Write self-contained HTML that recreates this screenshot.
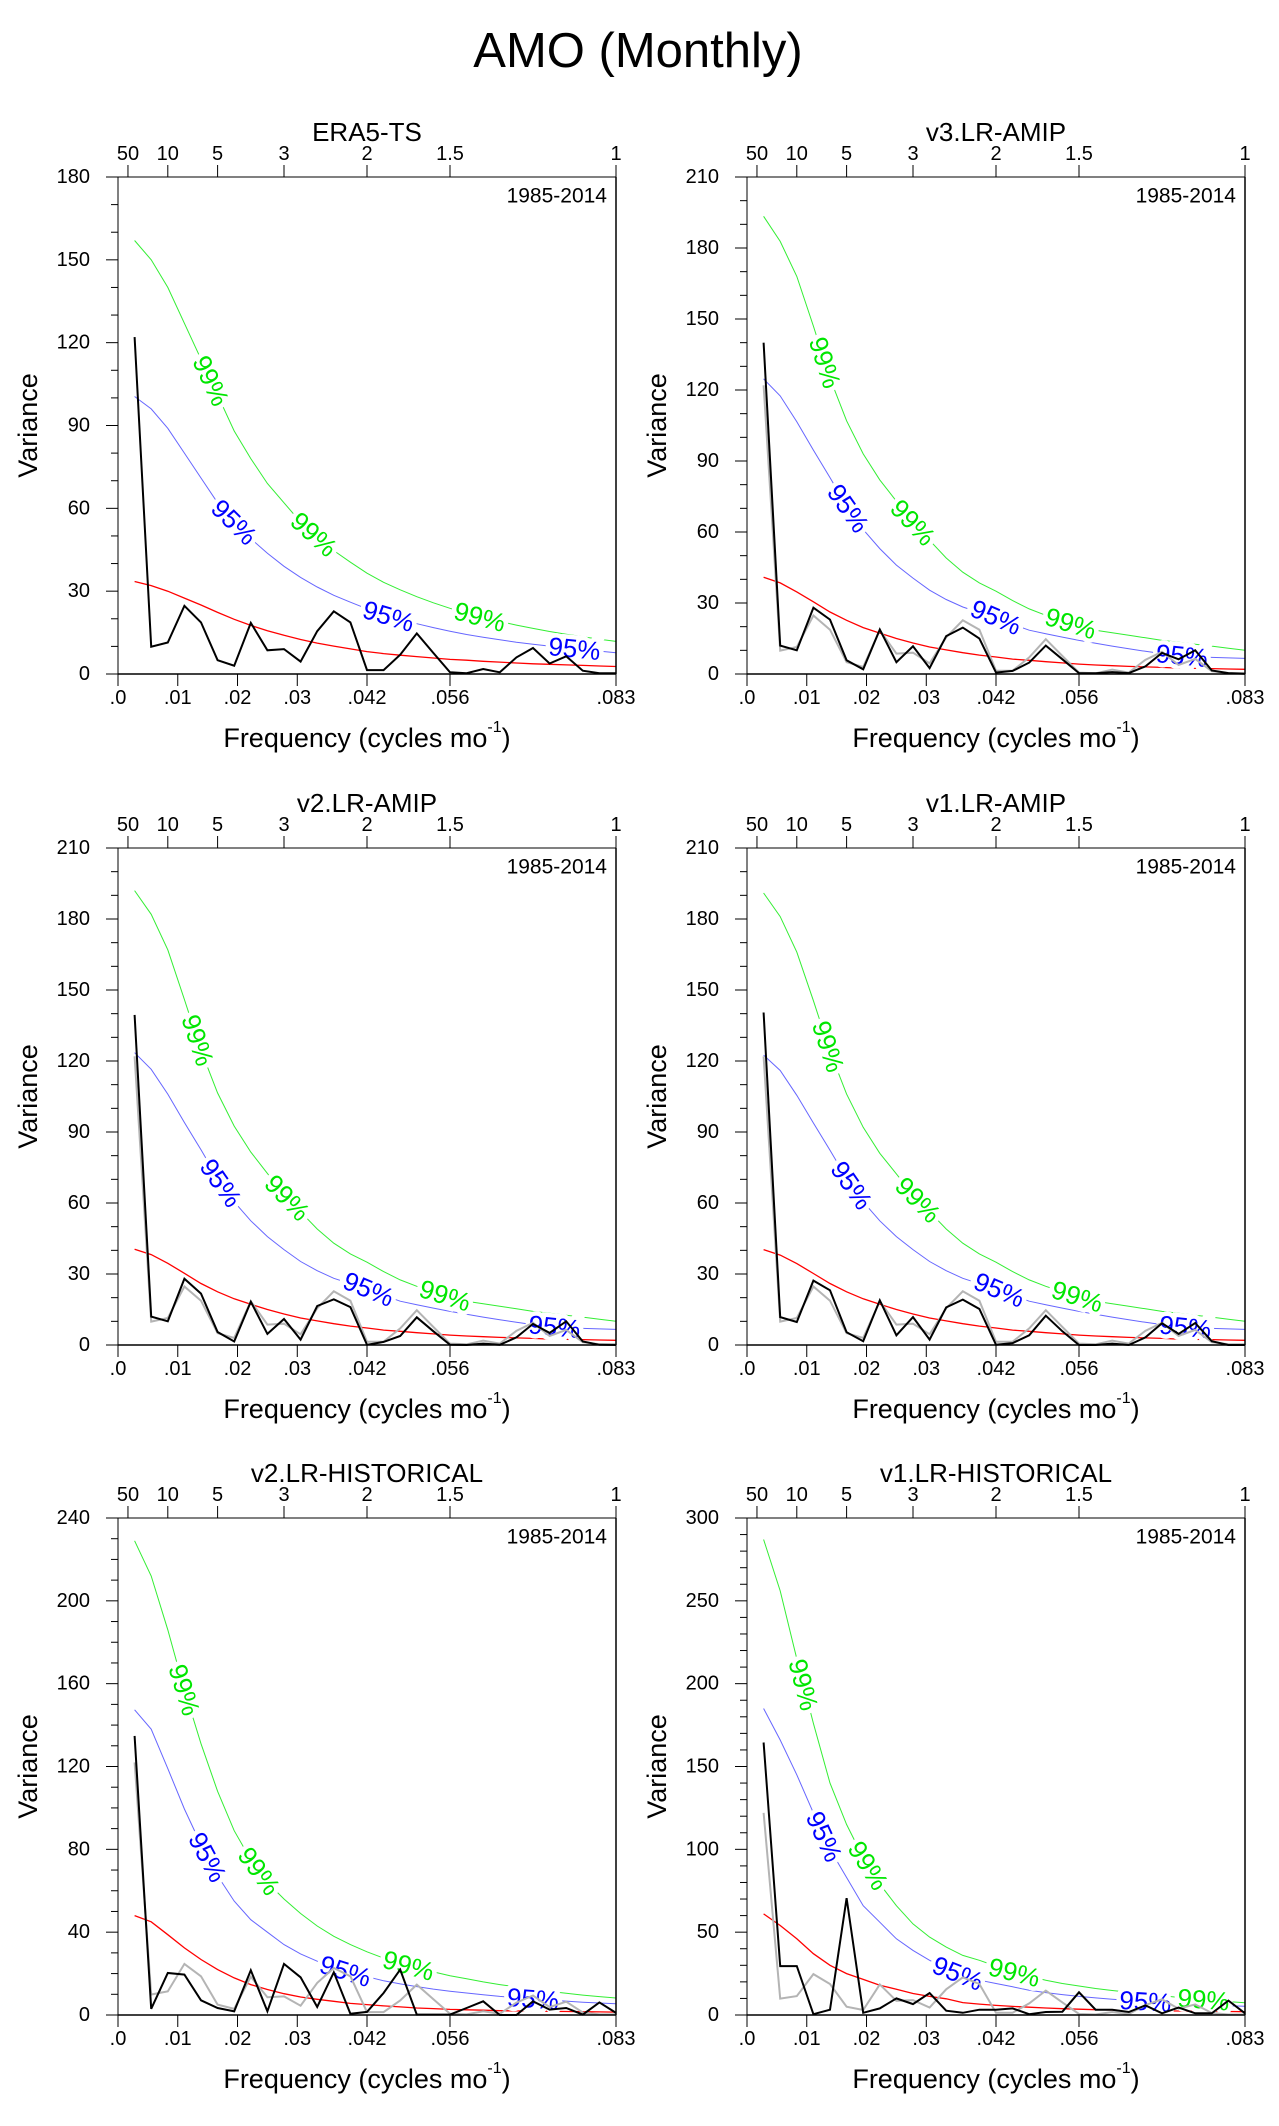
<!DOCTYPE html>
<html><head><meta charset="utf-8"><style>
html,body{margin:0;padding:0;background:#fff;}
svg{display:block;font-family:"Liberation Sans",Arial,sans-serif;}
</style></head><body>
<svg id="fig" width="1279" height="2126" viewBox="0 0 1279 2126" xmlns="http://www.w3.org/2000/svg">
<rect width="1279" height="2126" fill="#fff"/>
<text x="638" y="51" font-size="49" text-anchor="middle" dominant-baseline="central">AMO (Monthly)</text>
</svg>
<script>
// ---- data (values per harmonic k=1..30, frequency k/360 cycles per month) ----
const era5Black = [122,9.9,11.4,24.7,18.7,5,3,18.5,8.6,9,4.5,15.5,22.7,18.7,1.4,1.4,7,14.7,7.6,0.6,0.3,1.8,0.6,6,9.4,3.8,6.4,1.2,0.3,0.3];
const era5Red = [33.5,32,30,27.5,25,22.3,19.8,17.6,15.7,14,12.5,11.2,10.1,9.1,8.1,7.4,6.8,6.3,5.8,5.3,5,4.6,4.3,4,3.7,3.5,3.3,3.1,2.9,2.7];
const era5Blue = [100.5,96,89,80,71,62,55,49,43.7,39,35,31.5,28.5,26,23.6,21.5,19.7,18.2,16.8,15.5,14.3,13.3,12.4,11.5,10.8,10.1,9.5,8.9,8.3,7.7];
const era5Green = [157,150,140,127,114,101,88,78,69,62,55,49.5,44.7,40.5,36.5,33.2,30.5,28,25.8,23.8,22,20.4,19,17.7,16.5,15.4,14.4,13.5,12.6,11.8];

const v3Black = [140,12,10,28,23,5.8,2,18.8,5,11.7,2.5,16,19.6,15,0.6,1.3,4.8,12,6.2,0.4,0.3,0.8,0.4,3.2,8.9,6.2,10,1.5,0.4,0.1];
const v3Red = [40.9,38.5,34.7,30.5,26.2,22.7,19.6,17.3,15,13.1,11.4,10.2,9,8,7.2,6.3,5.8,5.2,4.7,4.2,3.8,3.5,3.2,3,2.8,2.5,2.4,2.3,2.1,2];
const v3Blue = [124.7,117.5,106.6,94.6,83,71,61,53,46,40.5,35.4,31.5,28.3,26,24,21,18.5,17,15.6,14.2,13,11.8,10.7,9.6,8.6,7.9,7.2,7,6.8,6.6];
const v3Green = [193.4,182.8,168,147,125,107,93,82,73,64,56.5,49,43,38.5,35,31,27.5,24.8,22.5,20.3,18.5,17.4,16.4,15.3,14.2,13.4,12.6,11.8,10.9,10];

const v2aBlack = [139.5,12,10,28,21.7,5.5,1.5,18.3,4.7,11,2.3,16.5,19.3,16,0.1,1.3,3.8,11.7,5.8,0.1,0,0.6,0.1,3.2,8.9,5.1,10,1.5,0.1,0];
const v2aRed = [40.5,38.2,34.5,30.3,26,22.5,19.5,17.2,15,13.1,11.4,10.2,9,8,7.2,6.3,5.8,5.2,4.7,4.2,3.8,3.5,3.2,3,2.8,2.5,2.4,2.3,2.1,2];
const v2aBlue = [123.5,116.5,106,94,82.5,70.5,60.5,52.5,45.8,40.3,35.3,31.4,28.2,25.9,23.9,21,18.5,17,15.6,14.2,13,11.8,10.7,9.6,8.6,7.9,7.2,7,6.8,6.6];
const v2aGreen = [192,182,167,146,124.5,106.5,92.5,81.5,72.5,63.7,56.3,49,43,38.5,35,31,27.5,24.8,22.5,20.3,18.5,17.4,16.4,15.3,14.2,13.4,12.6,11.8,10.9,10];

const v1aBlack = [140.5,11.8,9.7,27.2,23.1,5.4,1.6,18.9,4.1,11.8,2.3,15.9,19.2,15.2,0.1,0.8,4.1,12.4,5.8,0,0,0.6,0,3.2,9.2,4.7,9.3,1.6,0,0];
const v1aRed = [40.3,38,34.4,30.2,26,22.5,19.5,17.2,15,13.1,11.4,10.2,9,8,7.2,6.3,5.8,5.2,4.7,4.2,3.8,3.5,3.2,3,2.8,2.5,2.4,2.3,2.1,2];
const v1aBlue = [122.5,116,105.5,93.8,82.3,70.5,60.5,52.5,45.8,40.3,35.3,31.4,28.2,25.9,23.9,21,18.5,17,15.6,14.2,13,11.8,10.7,9.6,8.6,7.9,7.2,7,6.8,6.6];
const v1aGreen = [191,181,166,145.5,124,106,92,81,72.3,63.5,56.3,49,43,38.5,35,31,27.5,24.8,22.5,20.3,18.5,17.4,16.4,15.3,14.2,13.4,12.6,11.8,10.9,10];

const v2hBlack = [134.8,3,20.3,19.5,7.1,3.4,1.8,21.6,1.8,24.7,18.2,3.9,20.6,0.6,1.5,10.6,21.9,0.2,0.2,0.2,3.4,6.6,0,0,6.6,2.6,3.4,0.2,6.1,1];
const v2hRed = [48,45,38.8,32.4,26.8,21.9,17.9,14.7,12.3,10.3,8.7,7.6,6.6,5.6,5,4.4,3.9,3.4,3.1,2.7,2.5,2.3,2.1,2,1.9,1.8,1.7,1.6,1.5,1.4];
const v2hBlue = [147.4,138,119,99.5,82.3,67.2,55,46,40,34,29.5,26,23,20.5,18.5,16.5,15,13.7,12.5,11.5,10.6,9.8,9,8.4,7.8,7.2,6.7,6.2,5.8,5.4];
const v2hGreen = [229,212,186,157,131,108,89,75,64,56,49,43,38,34,30.5,27.5,25,22.8,20.8,19,17.5,16,14.7,13.5,12.4,11.4,10.5,9.6,8.9,8.2];

const v1hBlack = [164.5,29.5,29.5,0.5,3.2,70.5,1.3,4,10,6.6,13.2,2.6,1.3,3.2,3.2,4,0.5,1.8,2,13.7,3.2,3.2,1.8,5.8,1,4.5,1,1,8.7,1];
const v1hRed = [61,54,46,37,30,25,21.5,18,15.5,13,11.2,9.8,7.5,6.6,5.8,5.2,4.7,4.2,3.8,3.5,3.2,3,2.8,2.6,2.5,2.4,2.3,2.2,2.1,2.0];
const v1hBlue = [185,166,145,122,100,83,66,56,46,39,33,28,24,21,19,17,15,13.5,12.3,11.2,10.3,9.5,8.8,8.2,7.6,7,6.5,6,5.6,5.3];
const v1hGreen = [287,256,215,176,140,115,95,79,66,55,47,41,36,33,29.5,26,23.5,21,19,17.5,16,14.8,13.7,12.6,11.6,10.6,9.7,8.9,8.1,7.4];

const panelTitles = ["ERA5-TS","v3.LR-AMIP","v2.LR-AMIP","v1.LR-AMIP","v2.LR-HISTORICAL","v1.LR-HISTORICAL"];
const yMaxes = [180,210,210,210,240,300];
const yMajors = [30,30,30,30,40,50];
const bottomTickValues = [0,0.01,0.02,0.03,1/24,1/18,1/12];
const bottomTickLabels = [".0",".01",".02",".03",".042",".056",".083"];
const topPeriods = [50,10,5,3,2,1.5,1];
const topLabels = ["50","10","5","3","2","1.5","1"];
const blackSeries = [era5Black,v3Black,v2aBlack,v1aBlack,v2hBlack,v1hBlack];
const redSeries = [era5Red,v3Red,v2aRed,v1aRed,v2hRed,v1hRed];
const blueSeries = [era5Blue,v3Blue,v2aBlue,v1aBlue,v2hBlue,v1hBlue];
const greenSeries = [era5Green,v3Green,v2aGreen,v1aGreen,v2hGreen,v1hGreen];
// label positions (harmonic index k along the curve)
const lab99 = [[5.6,11.8,21.8],[4.7,10,19.5],[4.8,10.2,19.7],[4.9,10.3,19.9],[4.0,8.5,17.5],[3.4,7.3,16.1,27.5]];
const lab95 = [[7.0,16.3,27.5],[6.1,15,26.2],[6.2,15.1,26.3],[6.3,15.2,26.4],[5.4,13.7,25],[4.65,12.7,24]];

const NS = "http://www.w3.org/2000/svg";
const svg = document.getElementById("fig");
function mk(tag, attrs, parent){
  const e = document.createElementNS(NS, tag);
  for (const k in attrs) e.setAttribute(k, attrs[k]);
  (parent||svg).appendChild(e);
  return e;
}
const colX = [118,747], rowY = [177,848,1518], W = 498, H = 497;

for (let p = 0; p < 6; p++) {
  const x0 = colX[p%2], y0 = rowY[Math.floor(p/2)];
  const ymax = yMaxes[p];
  const g = mk("g", {});
  
  
  const X = f => x0 + f * 12 * W;
  const Y = v => y0 + H - v / ymax * H;
  const kx = k => X(k/360);

  const t = mk("text", {x:x0+W/2, y:y0-45, "font-size":26, "text-anchor":"middle", "dominant-baseline":"central"}, g);
  t.textContent = panelTitles[p];
  
  

  const yr = mk("text", {x:x0+W-9, y:y0+19, "font-size":21, "text-anchor":"end", "dominant-baseline":"central"}, g);
  yr.textContent = "1985-2014";
  
  

  for (let v = 0; v <= ymax; v += 10) {
    const major = v % yMajors[p] === 0;
    mk("line", {x1:x0-(major?12:7), x2:x0, y1:Y(v), y2:Y(v), stroke:"#000", "stroke-width":1}, g);
    if (major) {
      const tl = mk("text", {x:x0-28, y:Y(v), "font-size":20, "text-anchor":"end", "dominant-baseline":"central"}, g);
      tl.textContent = v;
      
      
    }
  }
  for (let i = 0; i < bottomTickValues.length; i++) {
    const xx = X(bottomTickValues[i]);
    mk("line", {x1:xx, x2:xx, y1:y0+H, y2:y0+H+12, stroke:"#000", "stroke-width":1}, g);
    const bl = mk("text", {x:xx, y:y0+H+24, "font-size":20, "text-anchor":"middle", "dominant-baseline":"central"}, g);
    bl.textContent = bottomTickLabels[i];
    
    
  }
  for (let i = 0; i < topPeriods.length; i++) {
    const xx = X(1/(12*topPeriods[i]));
    mk("line", {x1:xx, x2:xx, y1:y0, y2:y0-12, stroke:"#000", "stroke-width":1}, g);
    const tp = mk("text", {x:xx, y:y0-23, "font-size":20, "text-anchor":"middle", "dominant-baseline":"central"}, g);
    tp.textContent = topLabels[i];
    
    
  }
  const yl = mk("text", {x:x0-90, y:y0+H/2, "font-size":27, "text-anchor":"middle", "dominant-baseline":"central", transform:`rotate(-90 ${x0-90} ${y0+H/2})`}, g);
  yl.textContent = "Variance";
  
  
  const xl = mk("text", {x:x0+W/2, y:y0+H+64, "font-size":27, "text-anchor":"middle", "dominant-baseline":"central"}, g);
  xl.innerHTML = 'Frequency (cycles mo<tspan font-size="16" dy="-11">-1</tspan><tspan dy="11">)</tspan>';
  
  

  const pts = arr => arr.map((v,i)=>kx(i+1).toFixed(1)+","+Y(v).toFixed(1)).join(" ");
  const red = mk("polyline", {points:pts(redSeries[p]), fill:"none", stroke:"#ff0000", "stroke-width":1.3}, g);
  
  
  const bl = mk("polyline", {points:pts(blueSeries[p]), fill:"none", stroke:"#6666ff", "stroke-width":1}, g);
  
  
  const gr = mk("polyline", {points:pts(greenSeries[p]), fill:"none", stroke:"#33ee33", "stroke-width":1}, g);
  
  

  function curveLabel(arr, k, txt, col){
    const i = Math.min(Math.max(Math.floor(k)-1,0),arr.length-2);
    const fr = k-1-i;
    const v = arr[i] + (arr[i+1]-arr[i])*fr;
    const xa = kx(i+1), xb = kx(i+2), ya = Y(arr[i]), yb = Y(arr[i+1]);
    const ang = Math.atan2(yb-ya, xb-xa)*180/Math.PI;
    const cx = kx(k), cy = Y(v);
    const lt = mk("text", {x:cx, y:cy, "font-size":26, fill:col, stroke:"#fff", "stroke-width":9, "paint-order":"stroke", "text-anchor":"middle", "dominant-baseline":"central", transform:`rotate(${ang.toFixed(1)} ${cx.toFixed(1)} ${cy.toFixed(1)})`}, g);
    lt.textContent = txt;
    
    
  }
  lab99[p].forEach(k => curveLabel(greenSeries[p], k, "99%", "#00e600"));
  lab95[p].forEach(k => curveLabel(blueSeries[p], k, "95%", "#0000ff"));

  if (p > 0) {
    const gy = mk("polyline", {points:pts(era5Black), fill:"none", stroke:"#b4b4b4", "stroke-width":2}, g);
    
    
  }
  const bk = mk("polyline", {points:pts(blackSeries[p]), fill:"none", stroke:"#000", "stroke-width":2, "stroke-linejoin":"miter"}, g);
  
  

  mk("line", {x1:x0, x2:x0, y1:y0, y2:y0+H, stroke:"#000", "stroke-width":1}, g);
  mk("line", {x1:x0, x2:x0+W, y1:y0, y2:y0, stroke:"#000", "stroke-width":1}, g);
  mk("line", {x1:x0, x2:x0+W, y1:y0+H, y2:y0+H, stroke:"#000", "stroke-width":1.5}, g);
  mk("line", {x1:x0+W, x2:x0+W, y1:y0, y2:y0+H, stroke:"#000", "stroke-width":1.5}, g);
}
</script>
</body></html>
